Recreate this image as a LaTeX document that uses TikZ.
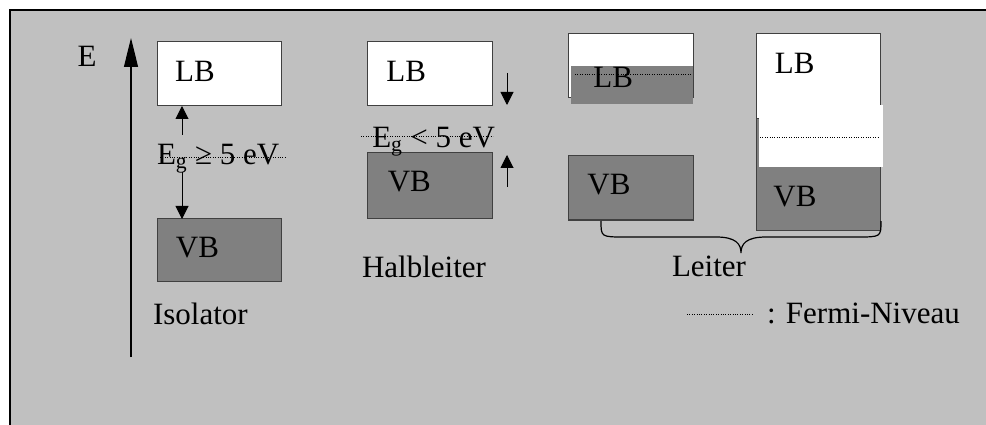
\documentclass[tikz,border=0pt]{standalone}
\usepackage{fontspec}
\setmainfont{Liberation Serif}
\usetikzlibrary{arrows.meta}

\definecolor{panel}{HTML}{C0C0C0}
\definecolor{valence}{HTML}{808080}
\definecolor{edge}{HTML}{404040}

\begin{document}
\begin{tikzpicture}[x=1pt,y=-1pt,
  band/.style={draw=edge, line width=1pt, inner sep=0pt, outer sep=0pt, anchor=north west},
  condband/.style={band, fill=white},
  valband/.style={band, fill=valence},
  lbl/.style={inner sep=0pt, outer sep=0pt, font=\fontsize{31}{31}\selectfont},
  fermi/.style={line width=0.9pt, dash pattern=on 0.9pt off 1.5pt},
  gaptip/.style={-{Triangle[width=13pt,length=13pt]}, line width=1pt}
]
\useasboundingbox (0,0) rectangle (986,425);

% panel with its frame
\fill[panel] (10,10) rectangle (986,425);
\draw[line width=2.5pt] (10,425) -- (10,10) -- (986,10);

% energy axis
\coordinate (axis-lo) at (131,357);
\coordinate (axis-hi) at (131,38);
\draw[-{Triangle[width=14pt,length=29pt]}, line width=1.2pt] (axis-lo) -- (axis-hi);
\node[lbl, anchor=base] (axis-label) at (87,66.5) {E};

% --- Isolator ---
\node[condband, minimum width=124pt, minimum height=64pt] (iso-lb) at (157,42) {};
\node[valband,  minimum width=124pt, minimum height=62pt] (iso-vb) at (157,219) {};
\node[lbl, anchor=base] (iso-lb-t) at (195,81.7) {LB};
\node[lbl, anchor=base] (iso-vb-t) at (197.5,257.3) {VB};
\node[lbl, anchor=base west] (iso-gap-t) at (157,165) {E\textsubscript{g} ≥ 5 eV};
\coordinate (iso-f1) at (160,157);
\coordinate (iso-f2) at (285,157);
\draw[fermi] (iso-f1) -- (iso-f2);
\coordinate (iso-up) at (182,135);
\coordinate (iso-dn) at (182,172);
\draw[gaptip] (iso-up) -- (iso-up |- iso-lb.south);
\draw[gaptip] (iso-dn) -- (iso-dn |- iso-vb.north);
\node[lbl, anchor=base west] (iso-name) at (153,324) {Isolator};

% --- Halbleiter ---
\node[condband, minimum width=125pt, minimum height=64pt] (hl-lb) at (367,42) {};
\node[valband,  minimum width=125pt, minimum height=66pt] (hl-vb) at (367,153) {};
\node[lbl, anchor=base] (hl-lb-t) at (406.3,81.7) {LB};
\node[lbl, anchor=base] (hl-vb-t) at (409.3,191.7) {VB};
\node[lbl, anchor=base west] (hl-gap-t) at (372.3,147.3) {E\textsubscript{g} < 5 eV};
\coordinate (hl-f1) at (361,136.7);
\coordinate (hl-f2) at (493,136.7);
\draw[fermi] (hl-f1) -- (hl-f2);
\coordinate (hl-dn-a) at (507,73);
\coordinate (hl-dn-b) at (507,105);
\coordinate (hl-up-a) at (507,187);
\coordinate (hl-up-b) at (507,155);
\draw[gaptip] (hl-dn-a) -- (hl-dn-b);
\draw[gaptip] (hl-up-a) -- (hl-up-b);
\node[lbl, anchor=base west] (hl-name) at (362,277) {Halbleiter};

% --- Leiter, partly filled conduction band ---
\node[condband, minimum width=125pt, minimum height=64.5pt] (m1-lb) at (568.3,33.3) {};
\fill[valence] (571,65.7) rectangle (693.3,104.3);
\node[valband,  minimum width=125pt, minimum height=64.3pt] (m1-vb) at (568.3,155.7) {};
\node[lbl, anchor=base] (m1-lb-t) at (613.3,87.7) {LB};
\node[lbl, anchor=base] (m1-vb-t) at (609,195) {VB};
\coordinate (m1-f1) at (575,74.3);
\coordinate (m1-f2) at (692,74.3);
\draw[fermi] (m1-f1) -- (m1-f2);

% --- Leiter, overlapping bands ---
\node[valband,  minimum width=124pt, minimum height=112pt] (m2-vb) at (756,118) {};
\node[condband, minimum width=124pt, minimum height=85pt] (m2-lb) at (756,33.3) {};
\fill[white] (759,105) rectangle (883,166.7);
\node[lbl, anchor=base] (m2-lb-t) at (794.7,73.3) {LB};
\node[lbl, anchor=base] (m2-vb-t) at (795,206.7) {VB};
\coordinate (m2-f1) at (760,137.3);
\coordinate (m2-f2) at (878,137.3);
\draw[fermi] (m2-f1) -- (m2-f2);

% brace grouping both metals
\coordinate (br-l) at (601,221);
\coordinate (br-r) at (881,221);
\coordinate (br-tip) at (741,253);
\draw[line width=1.2pt] (br-l) .. controls (601,237) .. (625,237) -- (716,237)
  .. controls (736,237) and (741,244) .. (br-tip)
  .. controls (741,244) and (746,237) .. (766,237) -- (857,237)
  .. controls (881,237) .. (br-r);
\node[lbl, anchor=base west] (m-name) at (672,276.7) {Leiter};

% legend
\coordinate (lg-1) at (687,314.3);
\coordinate (lg-2) at (753,314.3);
\draw[fermi] (lg-1) -- (lg-2);
\node[lbl, anchor=base west] (lg-t) at (767,323.3) {: Fermi-Niveau};
\end{tikzpicture}
\end{document}
